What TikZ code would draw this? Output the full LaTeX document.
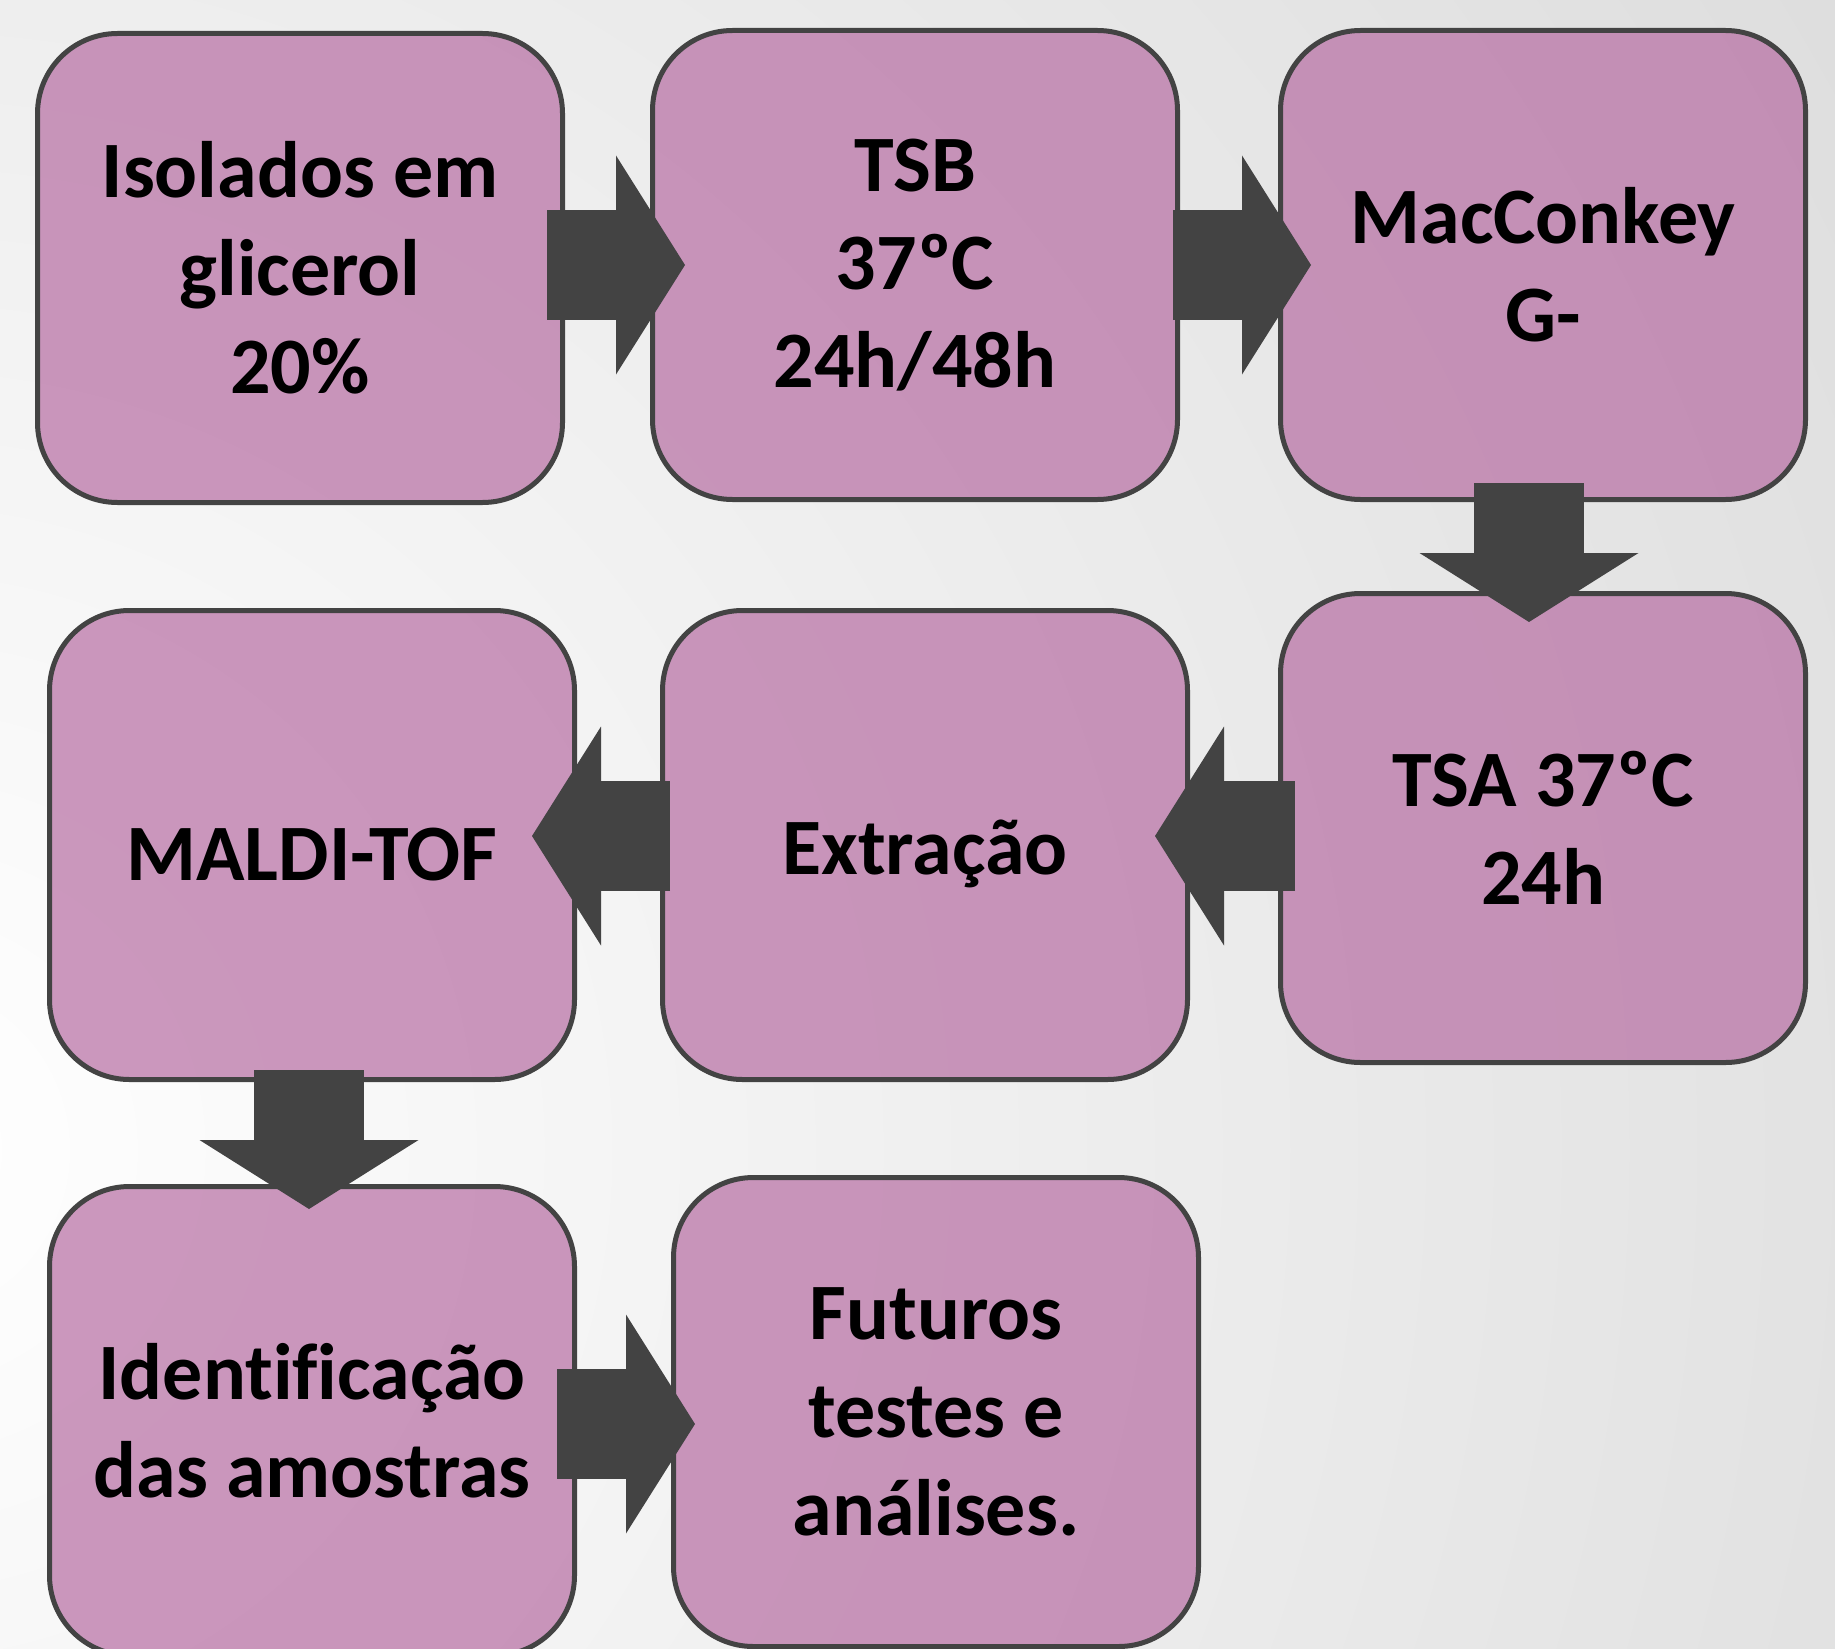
\documentclass[tikz,border=0pt]{standalone}
\usepackage{fontspec}
\setmainfont{Carlito}[Ligatures=CommonOff]
\usetikzlibrary{arrows.meta, positioning}
\definecolor{stagefill}{HTML}{B76DA3}
\definecolor{darkline}{HTML}{434343}
\definecolor{bggray}{HTML}{C4C4C4}

\begin{document}
\begin{tikzpicture}[x=0.5pt, y=-0.5pt,
        stage/.style = {draw=darkline, line width=2.5pt, rounded corners=40pt,
                        fill=stagefill, fill opacity=0.7, text opacity=1,
                        minimum width=262.5pt, minimum height=234.5pt, align=center,
                        font=\fontsize{40}{49}\selectfont\bfseries,
                        execute at begin node={\rule{0pt}{36pt}}},
        flow/.style  = {draw=darkline, line width=55pt,
                        -{Triangle[length=34.5pt, width=109.5pt, line width=0pt]}}]

    % background, white on the left and grey on the right
    \useasboundingbox (0,0) rectangle (1835,1648);
    \begin{scope}
    \clip (0,0) rectangle (1835,1648);
    \shade[inner color=white, outer color=bggray] (-100,1150) circle (4000);
    \end{scope}

    % first row, left to right
    \node[stage] (s1) at (300,268) {Isolados em\\glicerol\\20\%};
    \node[stage, right=42.5pt of s1, yshift=1.5pt] (s2) {TSB\\37ºC\\24h/48h};
    \node[stage, right=49pt of s2] (s3) {MacConkey\\G-};

    % second row, right to left
    \node[stage, below=44.5pt of s3] (s4) {TSA 37ºC\\24h};
    \node[stage, left=44pt of s4, yshift=-8.5pt] (s5) {Extração};
    \node[stage, left=41.5pt of s5] (s6) {MALDI-TOF};

    % third row
    \node[stage, below=51pt of s6] (s7) {Identificação\\das amostras};
    \node[stage, right=47pt of s7, yshift=4.5pt] (s8) {Futuros\\testes e\\análises.};

    % block arrows between the stages
    \draw[flow] ([xshift=-9pt, yshift=1.5pt]s1.east) -- ([xshift=17.5pt]s2.west);
    \draw[flow] ([xshift=-3.5pt]s2.east) -- ([xshift=16.5pt]s3.west);
    \draw[flow] ([xshift=-7pt, yshift=9.5pt]s3.south) -- ([xshift=-7pt, yshift=-15.5pt]s4.north);
    \draw[flow] ([xshift=8.5pt, yshift=-4pt]s4.west) -- ([xshift=-17.5pt, yshift=4.5pt]s5.east);
    \draw[flow] ([xshift=5pt, yshift=4.5pt]s5.west) -- ([xshift=-22.5pt, yshift=4.5pt]s6.east);
    \draw[flow] ([xshift=-1.5pt, yshift=6pt]s6.south) -- ([xshift=-1.5pt, yshift=-12.5pt]s7.north);
    \draw[flow] ([xshift=-10pt, yshift=-1.5pt]s7.east) -- ([xshift=12pt, yshift=-6pt]s8.west);

\end{tikzpicture}
\end{document}
